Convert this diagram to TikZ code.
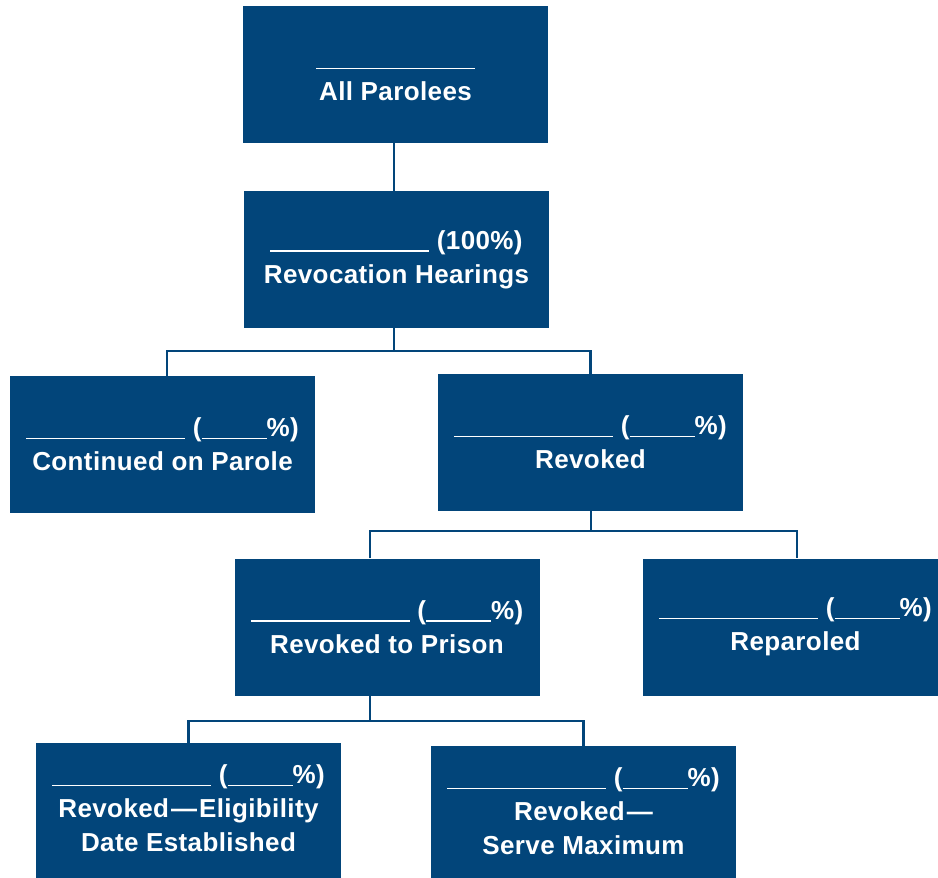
\documentclass[tikz,border=0pt]{standalone}
\usepackage{fontspec}
\setmainfont{Liberation Sans}[LetterSpace=1.5]
\definecolor{navy}{RGB}{2,69,122}
\newcommand\lblank{\rule[-2.5pt]{159pt}{1.7pt}}
\newcommand\sblank{\rule[-2.5pt]{65pt}{1.7pt}}
\begin{document}
\begin{tikzpicture}[x=1pt,y=-1pt,
  box/.style={fill=navy, minimum width=305pt, minimum height=137pt, inner sep=0pt,
    align=center, text=white, font=\fontsize{26}{34}\selectfont\bfseries},
  conn/.style={draw=navy, line width=2.5pt}]
\clip (0,0) rectangle (938,878);
\node[box] (b1) at (395.5,74.5) {\vphantom{(}\lblank\\All Parolees};
\node[box] (b2) at (396.5,259.5) {\lblank\ (100\%)\\Revocation Hearings};
\node[box] (b3) at (162.5,444.5) {\lblank\ (\sblank\%)\\Continued on Parole};
\node[box] (b4) at (590.5,442.5) {\lblank\ (\sblank\%)\\Revoked};
\node[box] (b5) at (387,627) {\lblank\ (\sblank\%)\\Revoked to Prison};
\node[box] (b6) at (795.5,627) {\lblank\ (\sblank\%)\\Reparoled};
\node[box] (b7) at (188.5,811.5) {\lblank\ (\sblank\%)\\Revoked\kern2pt—\kern2pt Eligibility\\Date Established\rule[-6pt]{0pt}{6pt}};
\node[box] (b8) at (583.5,814.5) {\lblank\ (\sblank\%)\\Revoked\kern2pt—\\Serve Maximum\rule[-6pt]{0pt}{6pt}};
\coordinate (j1) at (394,351);
\coordinate (j2) at (591,531);
\coordinate (j3) at (370,721);
\draw[conn] (b1.south -| j1) -- (b2.north -| j1);
\draw[conn] (b2.south -| j1) -- (j1);
\draw[conn] ([xshift=4.5pt]b3.north) |- (j1) -| (b4.north);
\draw[conn] (b4.south -| j2) -- (j2);
\draw[conn] ([xshift=-17pt]b5.north) |- (j2) -| ([xshift=1.5pt]b6.north);
\draw[conn] (b5.south -| j3) -- (j3);
\draw[conn] (b7.north) |- (j3) -| (b8.north);
\end{tikzpicture}
\end{document}
